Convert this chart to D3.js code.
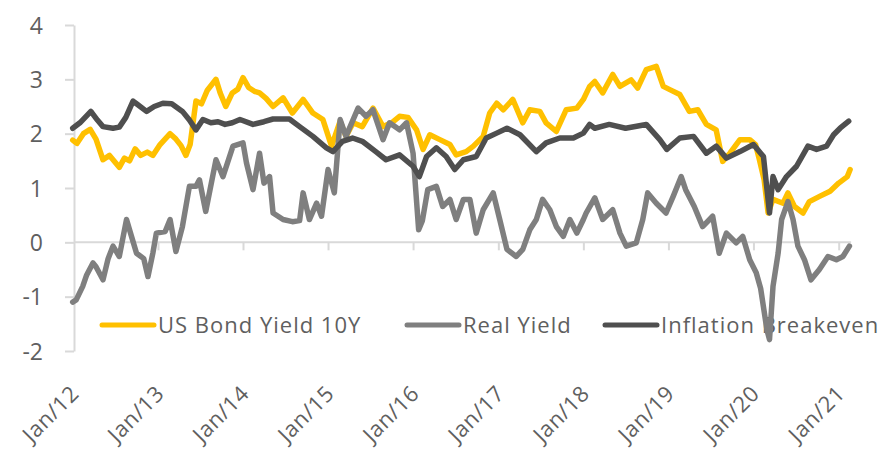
<!DOCTYPE html>
<html>
<head>
<meta charset="utf-8">
<script src="https://cdn.jsdelivr.net/npm/d3@7"></script>
<style>
  html, body { margin: 0; padding: 0; background: #fff; }
  svg { display: block; }
  text { font-family: "Open Sans", "DejaVu Sans", sans-serif; fill: #5f5f5f; }
</style>
</head>
<body>
<svg id="chart" width="896" height="455"></svg>
<script>
// ---------- DATA ----------
const seriesNames = ["US Bond Yield 10Y", "Real Yield", "Inflation Breakeven"];
const yTickValues = [-2, -1, 0, 1, 2, 3, 4];
const yTickLabels = ["-2", "-1", "0", "1", "2", "3", "4"];
const xTickDates = ["2012-01-01","2013-01-01","2014-01-01","2015-01-01","2016-01-01",
                    "2017-01-01","2018-01-01","2019-01-01","2020-01-01","2021-01-01"];
const xTickLabels = ["Jan/12","Jan/13","Jan/14","Jan/15","Jan/16","Jan/17","Jan/18","Jan/19","Jan/20","Jan/21"];

const usBondYield10Y = [
  ["2012-01-01",1.88],["2012-01-19",1.82],["2012-02-16",2.0],["2012-03-16",2.08],["2012-04-10",1.9],
  ["2012-05-10",1.52],["2012-06-07",1.6],["2012-07-19",1.38],["2012-08-10",1.55],["2012-09-01",1.5],
  ["2012-09-25",1.72],["2012-10-19",1.6],["2012-11-16",1.66],["2012-12-10",1.6],["2013-01-10",1.8],
  ["2013-02-22",2.0],["2013-03-19",1.9],["2013-04-10",1.78],["2013-05-01",1.6],["2013-05-19",1.8],
  ["2013-06-13",2.6],["2013-07-07",2.55],["2013-08-01",2.8],["2013-09-07",3.0],["2013-09-25",2.75],
  ["2013-10-19",2.5],["2013-11-16",2.75],["2013-12-10",2.82],["2014-01-01",3.03],["2014-01-25",2.85],
  ["2014-02-19",2.78],["2014-03-13",2.75],["2014-04-10",2.65],["2014-05-10",2.5],["2014-06-22",2.66],
  ["2014-08-01",2.38],["2014-09-16",2.63],["2014-10-28",2.38],["2014-12-10",2.26],["2015-01-16",1.77],
  ["2015-02-22",2.23],["2015-03-19",1.95],["2015-04-19",2.2],["2015-05-28",2.13],["2015-07-13",2.47],
  ["2015-08-25",2.13],["2015-10-01",2.2],["2015-11-04",2.32],["2015-12-10",2.3],["2016-01-16",2.07],
  ["2016-02-13",1.71],["2016-03-13",1.98],["2016-04-25",1.89],["2016-06-07",1.8],["2016-07-04",1.61],
  ["2016-08-16",1.67],["2016-09-16",1.77],["2016-10-28",1.95],["2016-11-25",2.38],["2016-12-25",2.56],
  ["2017-01-22",2.44],["2017-03-04",2.63],["2017-04-16",2.2],["2017-05-16",2.44],["2017-06-28",2.41],
  ["2017-07-25",2.2],["2017-09-07",2.04],["2017-10-19",2.44],["2017-12-04",2.47],["2018-01-01",2.63],
  ["2018-01-28",2.87],["2018-02-19",2.96],["2018-03-25",2.75],["2018-05-07",3.09],["2018-06-07",2.87],
  ["2018-07-25",2.99],["2018-08-22",2.84],["2018-09-28",3.18],["2018-11-10",3.24],["2018-12-10",2.87],
  ["2019-01-07",2.81],["2019-02-19",2.72],["2019-04-01",2.41],["2019-05-07",2.44],["2019-06-13",2.17],
  ["2019-07-25",2.07],["2019-08-22",1.49],["2019-09-22",1.64],["2019-11-04",1.89],["2019-12-16",1.89],
  ["2020-01-10",1.8],["2020-01-25",1.55],["2020-02-16",1.15],["2020-03-04",0.54],["2020-03-25",0.79],
  ["2020-05-07",0.72],["2020-05-28",0.91],["2020-06-25",0.66],["2020-08-01",0.54],["2020-08-28",0.75],
  ["2020-10-13",0.85],["2020-11-25",0.94],["2021-01-01",1.09],["2021-02-07",1.21],["2021-02-19",1.34]
];

const realYield = [
  ["2012-01-01",-1.1],["2012-01-16",-1.06],["2012-02-13",-0.81],["2012-03-01",-0.6],["2012-03-28",-0.38],
  ["2012-04-10",-0.45],["2012-05-10",-0.69],["2012-06-01",-0.3],["2012-06-22",-0.07],["2012-07-19",-0.26],
  ["2012-08-19",0.42],["2012-09-10",0.1],["2012-10-01",-0.2],["2012-11-01",-0.3],["2012-11-19",-0.63],
  ["2012-12-10",-0.2],["2012-12-25",0.17],["2013-02-01",0.2],["2013-02-22",0.42],["2013-03-19",-0.17],
  ["2013-04-16",0.29],["2013-05-16",1.03],["2013-06-13",1.03],["2013-06-28",1.15],["2013-07-25",0.57],
  ["2013-09-07",1.52],["2013-10-07",1.21],["2013-11-19",1.77],["2014-01-01",1.83],["2014-01-16",1.46],
  ["2014-02-13",0.97],["2014-03-13",1.64],["2014-04-01",1.09],["2014-04-25",1.21],["2014-05-10",0.54],
  ["2014-06-22",0.42],["2014-08-01",0.38],["2014-09-01",0.4],["2014-09-16",0.91],["2014-10-13",0.42],
  ["2014-11-13",0.72],["2014-12-04",0.48],["2015-01-01",1.34],["2015-01-28",0.91],["2015-02-22",2.26],
  ["2015-03-19",1.95],["2015-05-10",2.47],["2015-06-13",2.32],["2015-07-13",2.44],["2015-08-25",1.89],
  ["2015-09-22",2.2],["2015-11-04",2.07],["2015-12-04",2.2],["2016-01-01",1.64],["2016-01-25",0.23],
  ["2016-02-10",0.4],["2016-03-04",0.97],["2016-04-10",1.03],["2016-05-07",0.66],["2016-06-07",0.79],
  ["2016-07-04",0.42],["2016-08-04",0.79],["2016-09-01",0.79],["2016-09-28",0.17],["2016-10-28",0.6],
  ["2016-12-10",0.91],["2017-01-07",0.42],["2017-02-07",-0.13],["2017-03-19",-0.26],["2017-04-16",-0.13],
  ["2017-05-16",0.23],["2017-06-13",0.42],["2017-07-10",0.79],["2017-08-10",0.6],["2017-09-07",0.29],
  ["2017-10-07",0.11],["2017-11-04",0.42],["2017-12-04",0.17],["2018-01-01",0.42],["2018-01-13",0.54],
  ["2018-02-19",0.82],["2018-03-25",0.42],["2018-05-07",0.6],["2018-06-07",0.17],["2018-07-04",-0.07],
  ["2018-08-16",-0.01],["2018-09-13",0.42],["2018-10-04",0.91],["2018-11-10",0.72],["2018-12-22",0.54],
  ["2019-01-22",0.85],["2019-02-25",1.21],["2019-03-16",0.97],["2019-04-22",0.66],["2019-05-28",0.29],
  ["2019-07-10",0.48],["2019-08-07",-0.2],["2019-09-07",0.17],["2019-10-19",-0.01],["2019-11-16",0.11],
  ["2019-12-16",-0.32],["2020-01-13",-0.56],["2020-02-01",-0.85],["2020-02-28",-1.61],["2020-03-10",-1.79],
  ["2020-03-25",-0.81],["2020-04-16",-0.2],["2020-05-01",0.42],["2020-05-28",0.75],["2020-06-19",0.42],
  ["2020-07-10",-0.07],["2020-08-07",-0.32],["2020-09-04",-0.69],["2020-10-10",-0.5],["2020-11-16",-0.26],
  ["2020-12-22",-0.32],["2021-01-19",-0.26],["2021-02-16",-0.07]
];

const inflationBreakeven = [
  ["2012-01-01",2.1],["2012-02-01",2.2],["2012-03-19",2.41],["2012-04-16",2.25],["2012-05-10",2.13],
  ["2012-06-22",2.1],["2012-07-19",2.12],["2012-08-16",2.3],["2012-09-16",2.6],["2012-10-01",2.55],
  ["2012-11-13",2.41],["2012-12-16",2.5],["2013-01-22",2.56],["2013-03-01",2.55],["2013-04-16",2.41],
  ["2013-05-16",2.25],["2013-06-13",2.07],["2013-07-13",2.26],["2013-08-16",2.2],["2013-09-16",2.22],
  ["2013-10-16",2.17],["2013-11-16",2.2],["2013-12-19",2.26],["2014-02-13",2.17],["2014-04-01",2.22],
  ["2014-05-10",2.27],["2014-07-19",2.27],["2014-09-01",2.13],["2014-10-28",1.95],["2014-12-25",1.74],
  ["2015-01-22",1.67],["2015-03-04",1.86],["2015-04-16",1.92],["2015-05-28",1.86],["2015-07-25",1.67],
  ["2015-09-07",1.52],["2015-11-04",1.61],["2016-01-01",1.40],["2016-01-28",1.21],["2016-02-28",1.58],
  ["2016-04-10",1.74],["2016-05-22",1.58],["2016-06-28",1.34],["2016-08-04",1.52],["2016-09-28",1.58],
  ["2016-11-10",1.92],["2016-12-25",2.01],["2017-02-07",2.1],["2017-04-04",1.98],["2017-06-13",1.67],
  ["2017-07-25",1.83],["2017-09-22",1.92],["2017-11-19",1.92],["2018-01-01",2.01],["2018-01-28",2.17],
  ["2018-02-19",2.1],["2018-04-22",2.17],["2018-07-01",2.1],["2018-09-28",2.17],["2018-11-25",1.89],
  ["2018-12-25",1.71],["2019-02-19",1.92],["2019-04-19",1.95],["2019-06-13",1.64],["2019-07-25",1.77],
  ["2019-09-07",1.55],["2019-11-04",1.67],["2020-01-01",1.8],["2020-02-01",1.64],["2020-02-13",1.58],
  ["2020-03-10",0.54],["2020-03-25",1.21],["2020-04-16",0.97],["2020-05-22",1.21],["2020-07-04",1.4],
  ["2020-08-22",1.77],["2020-09-28",1.71],["2020-11-10",1.77],["2020-12-10",1.98],["2021-01-07",2.1],
  ["2021-02-13",2.23]
];

const seriesColors = ["#FFC000", "#7f7f7f", "#4f4f4f"];

// ---------- CHART ----------
const parse = d3.timeParse("%Y-%m-%d");
const svg = d3.select("#chart");
const axisColor = "#d9d9d9";

const x = d3.scaleTime()
  .domain([parse("2012-01-01"), parse("2021-01-01")])
  .range([72.7, 838.7]);
const y = d3.scaleLinear().domain([-2, 4]).range([351, 25]);

// Y axis
const yAxis = svg.append("g")
  .attr("transform", "translate(74,0)")
  .call(d3.axisLeft(y).tickValues(yTickValues).tickSize(9).tickSizeOuter(0).tickPadding(22)
        .tickFormat((d, i) => yTickLabels[i]));
yAxis.select(".domain").attr("stroke", axisColor).attr("stroke-width", 2);
yAxis.selectAll(".tick line").attr("stroke", axisColor).attr("stroke-width", 2);
yAxis.selectAll(".tick text").attr("font-size", 23).attr("fill", "#5f5f5f")
  .attr("font-family", "'Open Sans', sans-serif").attr("dy", "0.35em");

// X axis at zero (ticks only)
const lastDate = parse(usBondYield10Y[usBondYield10Y.length - 1][0]);
const xDates = xTickDates.map(parse);
svg.append("line")
  .attr("x1", 74).attr("x2", x(lastDate) + 1)
  .attr("y1", y(0)).attr("y2", y(0))
  .attr("stroke", axisColor).attr("stroke-width", 2);
const xAxisTicks = svg.append("g")
  .attr("transform", `translate(0,${y(0)})`)
  .call(d3.axisBottom(x).tickValues(xDates.slice(1)).tickSize(8).tickFormat(""));
xAxisTicks.select(".domain").remove();
xAxisTicks.selectAll(".tick line").attr("stroke", axisColor).attr("stroke-width", 2);

// X labels (rotated, at bottom)
const xLabelG = svg.append("g")
  .attr("transform", "translate(0,395)")
  .call(d3.axisBottom(x).tickValues(xDates).tickSize(0)
        .tickFormat((d, i) => xTickLabels[i]));
xLabelG.select(".domain").remove();
xLabelG.selectAll(".tick text")
  .attr("font-size", 22).attr("letter-spacing", "0.6px")
  .attr("fill", "#5f5f5f")
  .attr("font-family", "'Open Sans', sans-serif")
  .attr("text-anchor", "end")
  .attr("dy", 0).attr("y", 0)
  .attr("transform", "translate(7,0) rotate(-45)");

// Legend (drawn below the lines)
const legendX = [100, 405, 603];
const legend = svg.append("g");
seriesNames.forEach((name, i) => {
  const g = legend.append("g").attr("transform", `translate(${legendX[i]},325)`);
  g.append("line").attr("x1", 2).attr("x2", 54).attr("y1", 0).attr("y2", 0)
    .attr("stroke", seriesColors[i]).attr("stroke-width", 5).attr("stroke-linecap", "round");
  g.append("text").attr("x", 58).attr("y", 0).attr("dy", "0.35em")
    .attr("font-size", 22).attr("letter-spacing", "1px").text(name);
});

// Lines
const line = d3.line()
  .x(d => x(parse(d[0])))
  .y(d => y(d[1]))
  .curve(d3.curveLinear);

const drawOrder = [[usBondYield10Y, 0], [realYield, 1], [inflationBreakeven, 2]];
drawOrder.forEach(([data, i]) => {
  svg.append("path")
    .datum(data)
    .attr("fill", "none")
    .attr("stroke", seriesColors[i])
    .attr("stroke-width", 5.5)
    .attr("stroke-linejoin", "round")
    .attr("stroke-linecap", "round")
    .attr("d", line);
});
</script>
</body>
</html>
